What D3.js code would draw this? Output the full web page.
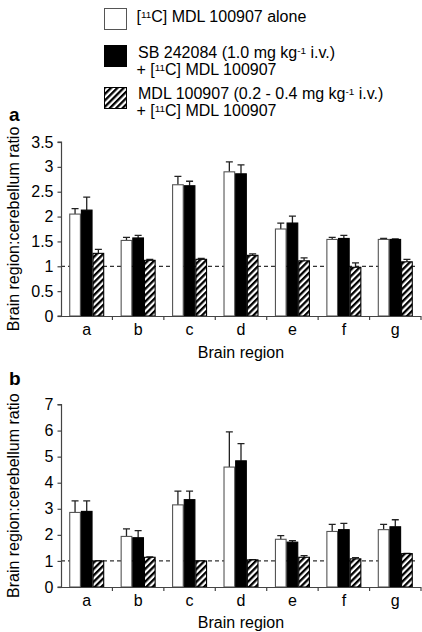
<!DOCTYPE html>
<html><head><meta charset="utf-8">
<script src="https://cdn.jsdelivr.net/npm/d3@7"></script>
<style>body{margin:0;background:#fff}svg{display:block}svg text{font-family:"Liberation Sans",Arial,Helvetica,sans-serif}</style>
</head><body>
<script>
const categories = ["a","b","c","d","e","f","g"];
const seriesNames = ["alone","sb","mdl"];
const legendLines = [
  ["[^{11}C] MDL 100907 alone"],
  ["SB 242084 (1.0 mg kg^{-1} i.v.)", "+ [^{11}C] MDL 100907"],
  ["MDL 100907 (0.2 - 0.4 mg kg^{-1} i.v.)", "+ [^{11}C] MDL 100907"]
];
// Panel a
const aAlone = [2.05, 1.52, 2.64, 2.90, 1.75, 1.54, 1.54];
const aAloneErr = [2.16, 1.58, 2.81, 3.10, 1.87, 1.58, 1.56];
const aSB = [2.13, 1.57, 2.62, 2.86, 1.87, 1.56, 1.54];
const aSBErr = [2.39, 1.62, 2.71, 3.04, 2.01, 1.62, 1.55];
const aMDL = [1.26, 1.12, 1.14, 1.22, 1.11, 0.98, 1.09];
const aMDLErr = [1.34, 1.14, 1.16, 1.25, 1.17, 1.07, 1.14];
const aTicks = [0, 0.5, 1, 1.5, 2, 2.5, 3, 3.5];
// Panel b
const bAlone = [2.86, 1.94, 3.15, 4.60, 1.83, 2.13, 2.20];
const bAloneErr = [3.30, 2.23, 3.68, 5.95, 1.97, 2.40, 2.40];
const bSB = [2.90, 1.89, 3.35, 4.84, 1.72, 2.20, 2.31];
const bSBErr = [3.30, 2.16, 3.68, 5.50, 1.78, 2.44, 2.58];
const bMDL = [1.00, 1.14, 1.00, 1.04, 1.14, 1.08, 1.28];
const bMDLErr = [1.00, 1.15, 1.00, 1.05, 1.20, 1.13, 1.29];
const bTicks = [0, 1, 2, 3, 4, 5, 6, 7];
const refLine = 1;

const W = 422, H = 632;
const FONT = "'Liberation Sans', Arial, Helvetica, sans-serif";
const svg = d3.select("body").append("svg").attr("width", W).attr("height", H);
const defs = svg.append("defs");
const pat = defs.append("pattern").attr("id","hatch").attr("patternUnits","userSpaceOnUse")
  .attr("width",4.5).attr("height",4.5).attr("patternTransform","rotate(45)");
pat.append("rect").attr("width",4.5).attr("height",4.5).attr("fill","#fff");
pat.append("rect").attr("x",0).attr("width",2.3).attr("height",4.5).attr("fill","#000");

function richText(sel, str) {
  const parts = str.split(/(\^\{[^}]*\})/);
  parts.forEach(p => {
    if (!p) return;
    if (p.startsWith("^{")) {
      sel.append("tspan").attr("font-size","0.62em").attr("baseline-shift","38%").text(p.slice(2,-1));
    } else sel.append("tspan").text(p);
  });
}

const fills = {alone:"#fff", sb:"#000", mdl:"url(#hatch)"};
const strokes = {alone:"#555", sb:"#000", mdl:"#000"};

// Legend
const lg = svg.append("g");
const legY = [8, 45, 87];
const legText = [[22], [58, 75], [99, 116]];
legendLines.forEach((lines, i) => {
  lg.append("rect").attr("x",104.5).attr("y",legY[i]+0.5).attr("width",22).attr("height",21)
    .attr("fill", fills[seriesNames[i]]).attr("stroke", strokes[seriesNames[i]]).attr("stroke-width",1);
  lines.forEach((ln, j) => {
    const t = lg.append("text").attr("x", j===0 && i>0 ? 138 : 136.5).attr("y", legText[i][j])
      .attr("font-size", 16).attr("fill","#000").attr("font-family", FONT);
    richText(t, ln);
  });
});

function panel(cfg) {
  const g = svg.append("g");
  const x0 = d3.scaleBand().domain(categories).range([61, 421]).paddingInner(0.32).paddingOuter(0.16);
  const x1 = d3.scaleBand().domain(seriesNames).range([0, x0.bandwidth()]);
  const y = d3.scaleLinear().domain([0, cfg.max]).range([cfg.y0, cfg.y1]);
  const step = x0.step();
  const axisColor = "#444";

  g.append("line").attr("x1", 61).attr("x2", 418).attr("y1", y(refLine)).attr("y2", y(refLine))
    .attr("stroke","#333").attr("stroke-width",1.3).attr("stroke-dasharray","4,3");

  const data = categories.map((c, i) => ({c, vals: seriesNames.map((s, k) => ({s, v: cfg.vals[k][i], e: cfg.errs[k][i]}))}));
  const grp = g.selectAll("g.grp").data(data).join("g").attr("transform", d => `translate(${x0(d.c)},0)`);
  grp.selectAll("path.err").data(d => d.vals).join("path")
    .attr("d", d => {
      const cx = x1(d.s) + x1.bandwidth()/2;
      return `M${cx},${y(d.v)}V${y(d.e)}M${cx-3.5},${y(d.e)}H${cx+3.5}`;
    }).attr("stroke","#222").attr("stroke-width",1.3).attr("fill","none");
  grp.selectAll("rect").data(d => d.vals).join("rect")
    .attr("x", d => x1(d.s)+0.5).attr("width", x1.bandwidth()-1)
    .attr("y", d => y(d.v)).attr("height", d => y(0) - y(d.v))
    .attr("fill", d => fills[d.s]).attr("stroke", d => strokes[d.s]).attr("stroke-width",1.1);

  const ya = d3.axisLeft(y).tickValues(cfg.ticks).tickSize(4).tickPadding(4).tickFormat(d => String(d));
  const yg = g.append("g").attr("transform","translate(61.5,0)").call(ya)
    .attr("font-family", FONT).attr("font-size", 16);
  yg.select(".domain").attr("stroke",axisColor).attr("stroke-width",1.2).attr("d", `M-4,${y(cfg.max)}H0V${y(0)}H-4`);
  yg.selectAll(".tick line").attr("stroke",axisColor).attr("stroke-width",1.2);
  yg.selectAll(".tick text").attr("fill","#000");

  const xa = d3.axisBottom(x0).tickSize(0).tickPadding(8);
  const xg = g.append("g").attr("transform",`translate(0,${y(0)})`).call(xa)
    .attr("font-family", FONT).attr("font-size", 16);
  xg.select(".domain").attr("stroke",axisColor).attr("stroke-width",1.2).attr("d", `M61,0.5H421`);
  xg.selectAll(".tick text").attr("fill","#000");
  xg.selectAll("line.sep").data(d3.range(1, categories.length+1)).join("line").attr("class","sep")
    .attr("x1", k => 61 + k*step).attr("x2", k => 61 + k*step).attr("y1",0).attr("y2",4)
    .attr("stroke",axisColor).attr("stroke-width",1.2);

  g.append("text").attr("x", 241).attr("y", cfg.xTitleY).attr("text-anchor","middle").attr("font-size",16)
    .attr("font-family", FONT).text("Brain region");
  g.append("text").attr("transform",`translate(19,${(cfg.y0+cfg.y1)/2}) rotate(-90)`).attr("text-anchor","middle")
    .attr("font-size",16).attr("font-family", FONT).text("Brain region:cerebellum ratio");
  g.append("text").attr("x",9).attr("y",cfg.labelY).attr("font-size",19).attr("font-weight","bold")
    .attr("font-family", FONT).text(cfg.label);
}

panel({label:"a", labelY:121, max:3.5, y0:316, y1:142, ticks:aTicks,
  vals:[aAlone,aSB,aMDL], errs:[aAloneErr,aSBErr,aMDLErr], xTitleY:358});
panel({label:"b", labelY:385, max:7, y0:587, y1:404.5, ticks:bTicks,
  vals:[bAlone,bSB,bMDL], errs:[bAloneErr,bSBErr,bMDLErr], xTitleY:628});
</script>
</body></html>
